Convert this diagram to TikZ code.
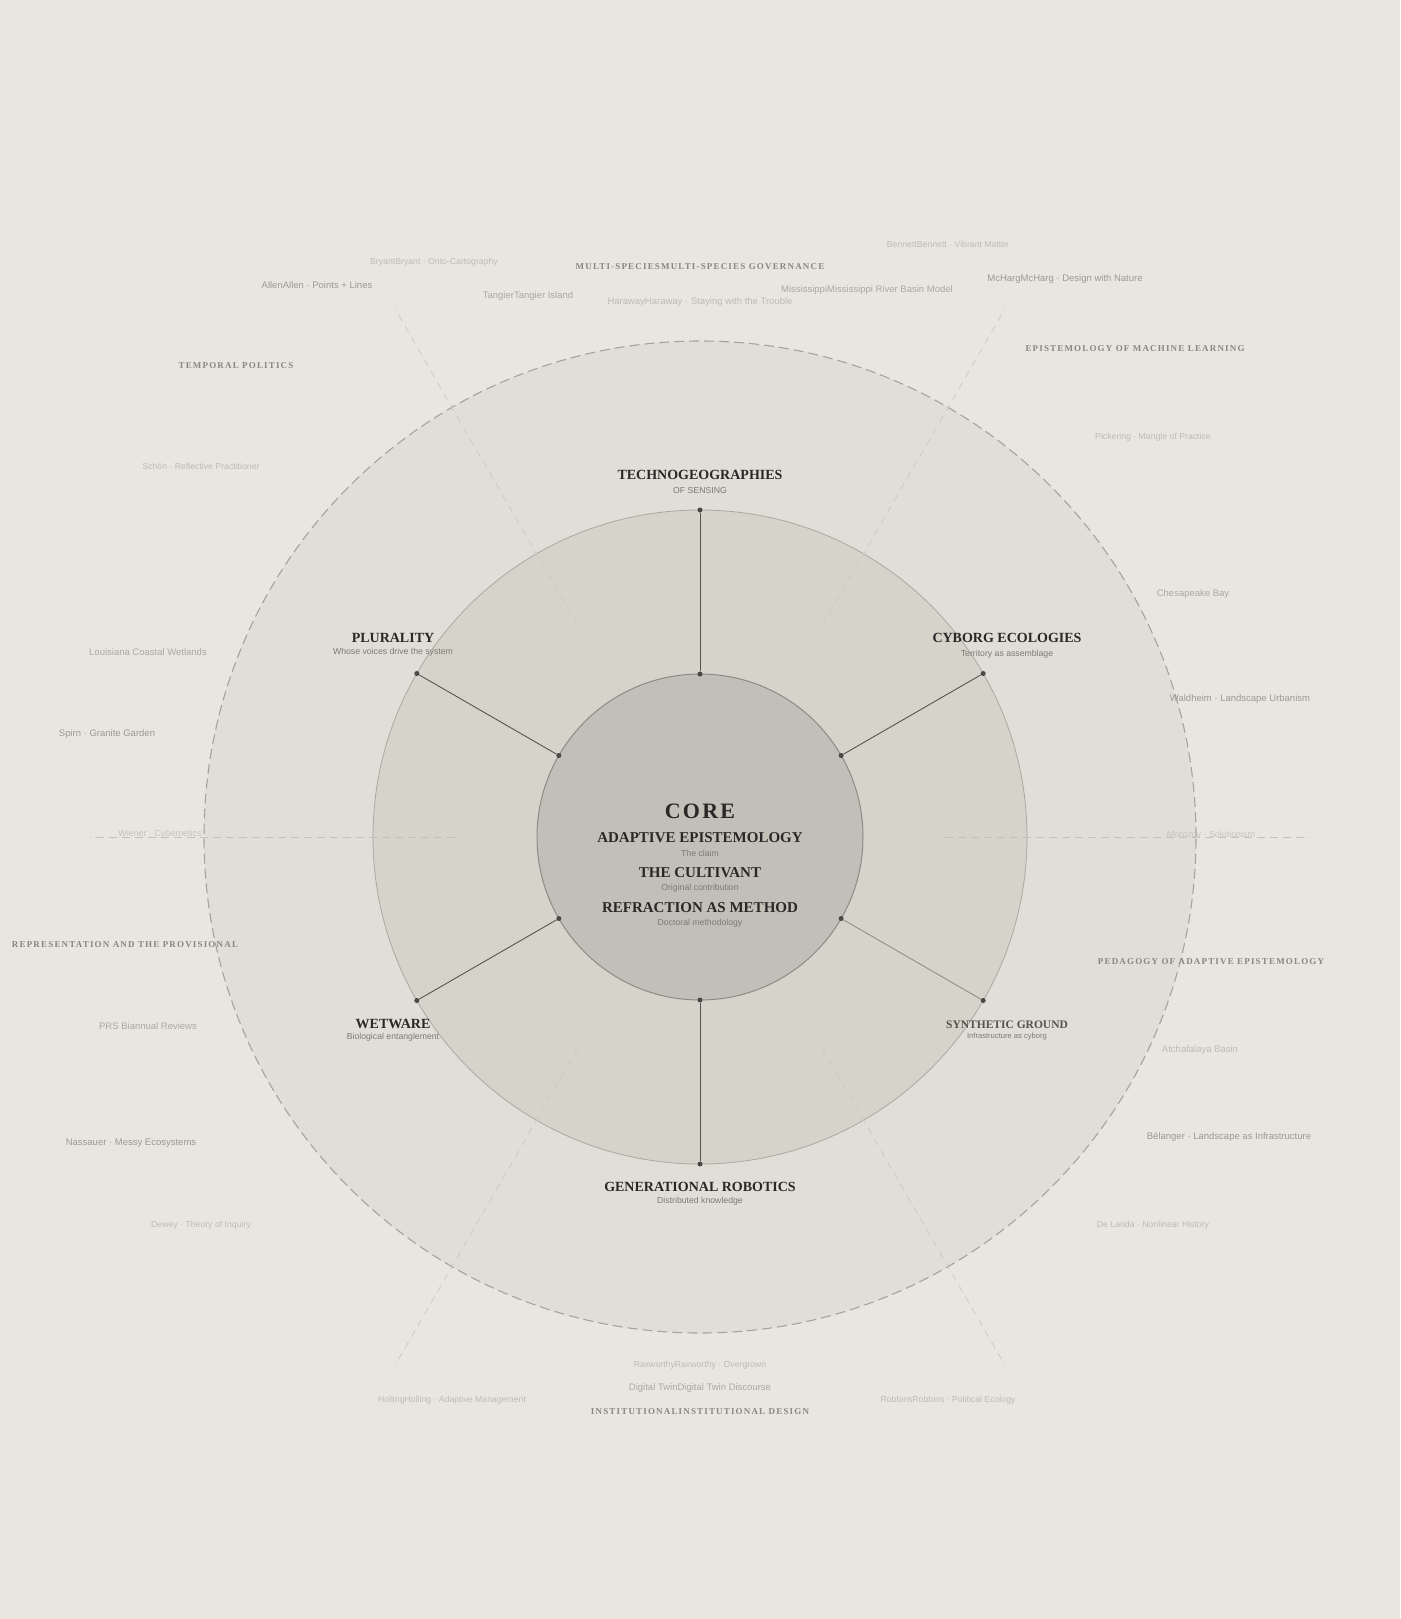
\documentclass[tikz,border=0pt]{standalone}
\usepackage{fontspec}
\setmainfont{Liberation Serif}
\setsansfont{Liberation Sans}
\newfontfamily\hdfont{Liberation Serif}[LetterSpace=13]
\newfontfamily\corefont{Liberation Serif}[LetterSpace=10]
\definecolor{bgc}{HTML}{E8E6DE}
\definecolor{outerc}{HTML}{E0DED6}
\definecolor{midc}{HTML}{D6D3CB}
\definecolor{corec}{HTML}{C2BFB8}
\definecolor{coreline}{HTML}{8E8B86}
\definecolor{midline}{HTML}{ABA8A2}
\definecolor{outline}{HTML}{A6A39D}
\definecolor{spokec}{HTML}{575552}
\definecolor{spokedim}{HTML}{8C8985}
\definecolor{dotc}{HTML}{4A4744}
\definecolor{radc}{HTML}{CDCAC3}
\definecolor{radh}{HTML}{C4C1BA}
\definecolor{darkc}{HTML}{2A2826}
\definecolor{dimlbl}{HTML}{55524E}
\definecolor{subc}{HTML}{7D7A75}
\definecolor{hdrc}{HTML}{8A8680}
\definecolor{refm}{HTML}{9C9993}
\definecolor{refml}{HTML}{ABA8A2}
\definecolor{refl}{HTML}{BEBBB5}
\definecolor{refv}{HTML}{C6C3BD}
\tikzset{
  txt/.style={inner sep=0pt, anchor=center},
  lbl/.style={txt, font=\bfseries\fontsize{14}{16}\selectfont, text=darkc},
  clbl/.style={txt, font=\bfseries\fontsize{15}{17}\selectfont, text=darkc},
  sublbl/.style={txt, font=\sffamily\fontsize{8.7}{10}\selectfont, text=subc},
  hdr/.style={txt, font=\hdfont\bfseries\fontsize{9}{11}\selectfont, text=hdrc},
  refM/.style={txt, font=\sffamily\fontsize{9.5}{11}\selectfont, text=refm},
  refML/.style={txt, font=\sffamily\fontsize{9.5}{11}\selectfont, text=refml},
  refL/.style={txt, font=\sffamily\fontsize{9.5}{11}\selectfont, text=refl},
  refS/.style={txt, font=\sffamily\fontsize{8.7}{10}\selectfont, text=refl},
  refV/.style={txt, font=\sffamily\fontsize{8.9}{10}\selectfont, text=refv},
  spoke/.style={draw=spokec, line width=0.9pt},
  spokeD/.style={draw=spokedim, line width=0.8pt},
  dotmark/.style={circle, fill=dotc, inner sep=0pt, minimum size=5pt},
  radline/.style={draw=radc, line width=0.8pt, dash pattern=on 7pt off 6pt},
  radlineh/.style={draw=radh, line width=0.9pt, dash pattern=on 8pt off 5pt},
}
\begin{document}
\begin{tikzpicture}[x=1pt,y=-1pt]
\useasboundingbox (0,0) rectangle (1400,1619);
\fill[bgc] (0,0) rectangle (1400,1619);
\coordinate (c) at (700,837);
% rings
\fill[outerc] (c) circle (496pt);
\draw[outline, line width=1.1pt, dash pattern=on 10pt off 5pt] (c) circle (496pt);
% radial dashed guide lines
\foreach \a/\n in {60/a,120/b,240/d,300/e}{
  \coordinate (r\n1) at ([shift={(c)}]\a:245);
  \coordinate (r\n2) at ([shift={(c)}]\a:610);
}
\foreach \a/\n in {0/f,180/g}{
  \coordinate (r\n1) at ([shift={(c)}]\a:245);
  \coordinate (r\n2) at ([shift={(c)}]\a:610);
}
\fill[midc] (c) circle (327pt);
\draw[midline, line width=0.8pt] (c) circle (327pt);
\fill[corec] (c) circle (163pt);
\draw[coreline, line width=1pt] (c) circle (163pt);
\foreach \n in {a,b,d,e}{ \draw[radline] (r\n1) -- (r\n2); }
\foreach \n in {f,g}{ \draw[radlineh] (r\n1) -- (r\n2); }
% spokes
\foreach \a/\n in {-90/t,-30/ur,30/lr,90/b,150/ll,210/ul}{
  \node[dotmark] (in\n) at ([shift={(c)}]\a:163) {};
  \node[dotmark] (out\n) at ([shift={(c)}]\a:327) {};
}
\draw[spoke] (int) -- (outt);
\draw[spoke] (inur) -- (outur);
\draw[spokeD] (inlr) -- (outlr);
\draw[spoke] (inb) -- (outb);
\draw[spoke] (inll) -- (outll);
\draw[spoke] (inul) -- (outul);
% core texts
\node[txt, font=\corefont\bfseries\fontsize{22}{24}\selectfont, text=darkc] (core) at (700,811) {CORE};
\node[clbl] (ae) at (700,838) {ADAPTIVE EPISTEMOLOGY};
\node[sublbl] (aes) at (700,853) {The claim};
\node[clbl] (tc) at (700,873) {THE CULTIVANT};
\node[sublbl] (tcs) at (700,888) {Original contribution};
\node[clbl] (ram) at (700,908) {REFRACTION AS METHOD};
\node[sublbl] (rams) at (700,923) {Doctoral methodology};
% node labels
\node[lbl] (tg) at (700,475) {TECHNOGEOGRAPHIES};
\node[sublbl] (tgs) at (700,490) {OF SENSING};
\node[lbl] (pl) at (393,638) {PLURALITY};
\node[sublbl] (pls) at (393,652) {Whose voices drive the system};
\node[lbl] (ce) at (1007,638) {CYBORG ECOLOGIES};
\node[sublbl] (ces) at (1007,654) {Territory as assemblage};
\node[lbl] (ww) at (393,1024) {WETWARE};
\node[sublbl] (wws) at (393,1037) {Biological entanglement};
\node[txt, font=\bfseries\fontsize{11.5}{13}\selectfont, text=dimlbl] (sg) at (1007,1025) {SYNTHETIC GROUND};
\node[txt, font=\sffamily\fontsize{7.6}{9}\selectfont, text=subc] (sgs) at (1007,1037) {Infrastructure as cyborg};
\node[lbl] (gr) at (700,1187) {GENERATIONAL ROBOTICS};
\node[sublbl] (grs) at (700,1201) {Distributed knowledge};
% category headers
\node[hdr] (h1) at (700,267) {MULTI-SPECIESMULTI-SPECIES GOVERNANCE};
\node[hdr] (h2) at (236,366) {TEMPORAL POLITICS};
\node[hdr] (h3) at (1135,349) {EPISTEMOLOGY OF MACHINE LEARNING};
\node[hdr] (h4) at (125,945) {REPRESENTATION AND THE PROVISIONAL};
\node[hdr] (h5) at (1211,962) {PEDAGOGY OF ADAPTIVE EPISTEMOLOGY};
\node[hdr] (h6) at (700,1412) {INSTITUTIONALINSTITUTIONAL DESIGN};
% references
\node[refS] (r1) at (434,262) {BryantBryant · Onto-Cartography};
\node[refM] (r2) at (317,285) {AllenAllen · Points + Lines};
\node[refML] (r3) at (528,296) {TangierTangier Island};
\node[refL] (r4) at (700,302) {HarawayHaraway · Staying with the Trouble};
\node[refS] (r5) at (948,244) {BennettBennett · Vibrant Matter};
\node[refML] (r6) at (867,290) {MississippiMississippi River Basin Model};
\node[refM] (r7) at (1065,279) {McHargMcHarg · Design with Nature};
\node[refS] (r8) at (201,466) {Schön · Reflective Practitioner};
\node[refS] (r9) at (1153,437) {Pickering · Mangle of Practice};
\node[refML] (r10) at (1193,594) {Chesapeake Bay};
\node[refML] (r11) at (148,652) {Louisiana Coastal Wetlands};
\node[refM] (r12) at (107,734) {Spirn · Granite Garden};
\node[refM] (r13) at (1240,699) {Waldheim · Landscape Urbanism};
\node[refV] (r14) at (160,834) {Wiener · Cybernetics};
\node[refV] (r15) at (1211,834) {Morozov · Solutionism};
\node[refML] (r16) at (148,1026) {PRS Biannual Reviews};
\node[refM] (r17) at (131,1143) {Nassauer · Messy Ecosystems};
\node[refS] (r18) at (201,1225) {Dewey · Theory of Inquiry};
\node[refL] (r19) at (1200,1050) {Atchafalaya Basin};
\node[refM] (r20) at (1229,1137) {Bélanger · Landscape as Infrastructure};
\node[refS] (r21) at (1153,1225) {De Landa · Nonlinear History};
\node[refS] (r22) at (700,1365) {RaxworthyRaxworthy · Overgrown};
\node[refML] (r23) at (700,1388) {Digital TwinDigital Twin Discourse};
\node[refS] (r24) at (452,1400) {HollingHolling · Adaptive Management};
\node[refS] (r25) at (948,1400) {RobbinsRobbins · Political Ecology};
\end{tikzpicture}
\end{document}
